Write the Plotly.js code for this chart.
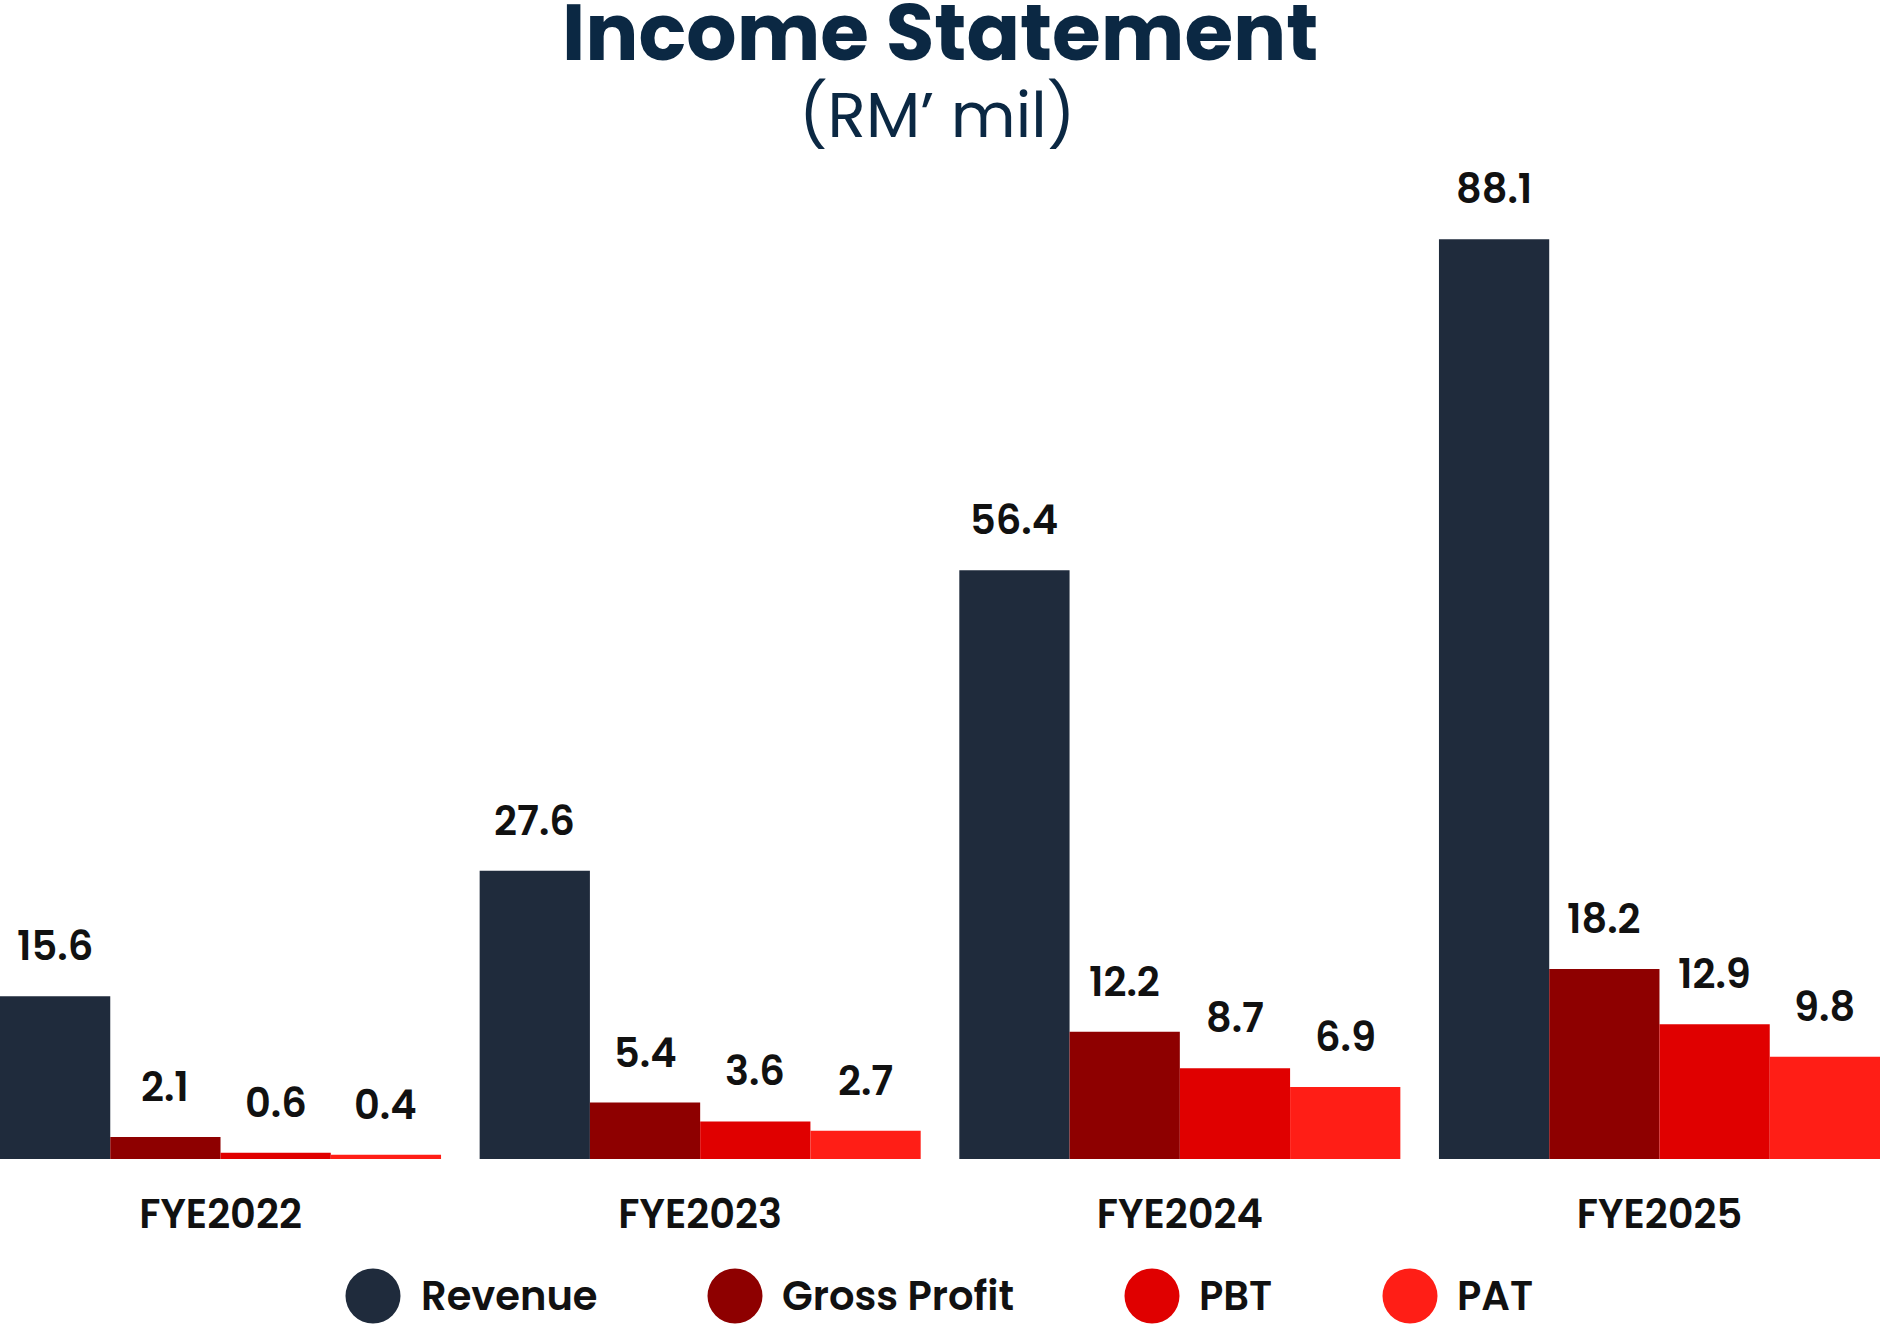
<!DOCTYPE html>
<html>
<head>
<meta charset="utf-8">
<script src="https://cdn.plot.ly/plotly-3.0.1.min.js"></script>
<style>
  html, body { margin: 0; padding: 0; background: #ffffff; }
  #chart { width: 1880px; height: 1325px; }
</style>
</head>
<body>
<div id="chart"></div>
<script>
  // Income statement, RM' mil
  var years = ["FYE2022", "FYE2023", "FYE2024", "FYE2025"];
  var seriesNames = ["Revenue", "Gross Profit", "PBT", "PAT"];
  var revenue = [15.6, 27.6, 56.4, 88.1];
  var grossProfit = [2.1, 5.4, 12.2, 18.2];
  var pbt = [0.6, 3.6, 8.7, 12.9];
  var pat = [0.4, 2.7, 6.9, 9.8];
  var seriesColors = ["#1f2b3c", "#8e0000", "#e00000", "#ff1e16"];

  var FONT = "Poppins, Inter, 'Noto Sans', sans-serif";
  var BAR_GAP = 0.0805;
  var W = 1880, H = 1325, M_TOP = 115, M_BOT = 166;
  var plotH = H - M_TOP - M_BOT;

  // px helpers for items placed outside the plot area
  function py(p) { return (H - M_BOT - p) / plotH; }
  function px(p) { return p / W; }

  var values = [revenue, grossProfit, pbt, pat];

  var traces = values.map(function (vals, i) {
    return {
      type: "bar",
      name: seriesNames[i],
      x: years,
      y: vals,
      marker: { color: seriesColors[i], line: { width: 0 } },
      hoverinfo: "skip",
      showlegend: false
    };
  });

  // value labels above each bar, offset within the group
  var annotations = [];
  var groupW = 1 - BAR_GAP;
  var barW = groupW / values.length;
  values.forEach(function (vals, i) {
    var off = -groupW / 2 + barW * (i + 0.5);
    vals.forEach(function (v, j) {
      annotations.push({
        x: j + off, y: v, xref: "x", yref: "y",
        text: v.toFixed(1), showarrow: false,
        yanchor: "middle", yshift: 50,
        font: { family: FONT, size: 40, color: "#111111", weight: 600 }
      });
    });
  });

  // titles
  annotations.push({
    x: 0.5, y: py(32), xref: "paper", yref: "paper",
    text: "Income Statement", showarrow: false, yanchor: "middle",
    font: { family: FONT, size: 79, color: "#0b2843", weight: 700 }
  });
  annotations.push({
    x: 0.4985, y: py(115), xref: "paper", yref: "paper",
    text: "(RM\u2019 mil)", showarrow: false, yanchor: "middle",
    font: { family: FONT, size: 63, color: "#0b2843", weight: 400 }
  });

  // custom legend: big dots + labels
  var legendDotX = [373, 735, 1152, 1410];
  var legendTextX = [419, 780, 1197, 1455];
  var legendY = 1296;
  var shapes = [];
  seriesNames.forEach(function (name, i) {
    shapes.push({
      type: "circle", xref: "paper", yref: "paper",
      xsizemode: "pixel", ysizemode: "pixel",
      xanchor: px(legendDotX[i]), yanchor: py(legendY),
      x0: -27.5, x1: 27.5, y0: -27.5, y1: 27.5,
      fillcolor: seriesColors[i], line: { width: 0 }
    });
    annotations.push({
      x: px(legendTextX[i]), y: py(legendY), xref: "paper", yref: "paper",
      text: name, showarrow: false, xanchor: "left", yanchor: "middle",
      font: { family: FONT, size: 40, color: "#111111", weight: 600 }
    });
  });

  var layout = {
    width: W, height: H,
    margin: { l: 0, r: 0, t: M_TOP, b: M_BOT, pad: 0 },
    paper_bgcolor: "#ffffff",
    plot_bgcolor: "#ffffff",
    barmode: "group",
    bargap: BAR_GAP,
    bargroupgap: 0,
    showlegend: false,
    xaxis: {
      type: "category",
      range: [-0.5 + BAR_GAP / 2, years.length - 0.5 - BAR_GAP / 2],
      showgrid: false, zeroline: false, showline: false, ticks: "",
      ticklabelstandoff: 28,
      tickfont: { family: FONT, size: 40, color: "#111111", weight: 600 },
      fixedrange: true
    },
    yaxis: {
      range: [0, 100],
      visible: false, showgrid: false, zeroline: false,
      fixedrange: true
    },
    annotations: annotations,
    shapes: shapes
  };

  Plotly.newPlot("chart", traces, layout, { displayModeBar: false, staticPlot: true });
</script>
</body>
</html>
